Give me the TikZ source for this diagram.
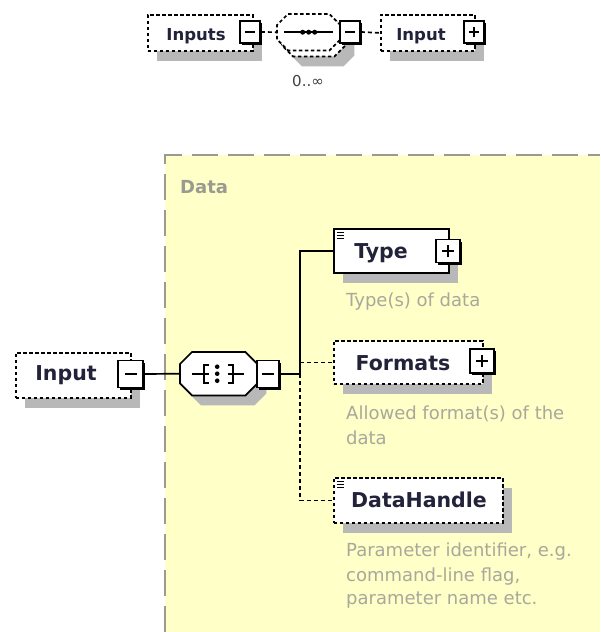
\documentclass[tikz,border=0pt]{standalone}
\usepackage{fontspec}
\setmainfont{DejaVu Sans}
\usetikzlibrary{shadows}
\definecolor{bgyellow}{HTML}{FFFFC8}
\definecolor{grpborder}{HTML}{9A9A90}
\definecolor{desccol}{HTML}{A8A89C}
\definecolor{lblcol}{HTML}{22223A}
\definecolor{shadecol}{HTML}{B8B8B8}
\tikzset{
  conn/.style={line width=1.7pt, black},
  dconn/.style={conn, dash pattern=on 4pt off 3pt},
  boxshadow/.style={drop shadow={shadow xshift=9pt, shadow yshift=-10pt, fill=shadecol, opacity=1}},
  elem/.style={draw=black, fill=white, line width=1.7pt, rectangle, inner sep=0pt, anchor=north west, minimum width=#1},
  optdash/.style={dash pattern=on 3.5pt off 2.5pt},
  octbox/.style={rectangle, inner sep=0pt, anchor=north west},
  octpath/.style 2 args={insert path={([xshift=#2]#1.north west) -- ([xshift=-#2]#1.north east) -- ([yshift=-#2]#1.north east) -- ([yshift=#2]#1.south east) -- ([xshift=-#2]#1.south east) -- ([xshift=#2]#1.south west) -- ([yshift=#2]#1.south west) -- ([yshift=-#2]#1.north west) -- cycle}},
  octshadow/.style={fill=shadecol, transform canvas={shift={(9pt,-10pt)}}},
  octdraw/.style={draw=black, fill=white, line width=1.7pt},
  sq/.style 2 args={draw=black, fill=white, line width=1.6pt, rectangle, inner sep=0pt, minimum width=#1, minimum height=#2,
     drop shadow={shadow xshift=2pt, shadow yshift=-2pt, fill=black, opacity=1}},
  glyph/.style={line width=1.5pt, black},
  toplbl/.style={anchor=base, inner sep=0pt, text=lblcol, font=\fontsize{16.5}{20}\selectfont\bfseries},
  lbl/.style={anchor=base, inner sep=0pt, text=lblcol, font=\fontsize{20.5}{25}\selectfont\bfseries},
  desc/.style={anchor=base west, inner sep=0pt, text=desccol, font=\fontsize{18}{21}\selectfont},
}
\begin{document}
\begin{tikzpicture}[x=1pt, y=-1pt]
\useasboundingbox (0,0) rectangle (600,632);
\fill[white] (0,0) rectangle (600,632);
% group area
\fill[bgyellow] (165,155) rectangle (600,632);
\draw[grpborder, line width=2pt, dash pattern=on 26pt off 10pt] (165,632) -- (165,155) -- (600,155);
\node[anchor=base west, inner sep=0pt, text=grpborder, font=\fontsize{18}{20}\selectfont\bfseries] (datalbl) at (180,193) {Data};

% ---------- top row ----------
\node[elem=105pt, minimum height=36pt, optdash, boxshadow] (inputs) at (147,14) {};
\node[toplbl] (inputsT) at (196,40) {Inputs};
\node[sq={20pt}{22pt}] (inputsM) at (250,32) {};
\draw[glyph] ([xshift=-5pt]inputsM.center) -- ([xshift=5pt]inputsM.center);

\node[octbox, minimum width=63pt, minimum height=36pt] (seqback) at (282,20) {};
\node[octbox, minimum width=63pt, minimum height=36pt] (seq) at (277,14) {};
\fill[octshadow, octpath={seqback}{11pt}];
\draw[octdraw, optdash, octpath={seqback}{11pt}];
\draw[octdraw, optdash, octpath={seq}{11pt}];
\draw[conn] ([xshift=7pt]seq.west) -- ([xshift=-7pt]seq.east);
\fill ([xshift=-6pt]seq.center) circle (2.5pt);
\fill (seq.center) circle (2.5pt);
\fill ([xshift=6pt]seq.center) circle (2.5pt);
\node[sq={20pt}{22pt}] (seqM) at (350,32) {};
\draw[glyph] ([xshift=-5pt]seqM.center) -- ([xshift=5pt]seqM.center);
\node[anchor=base, inner sep=0pt, text=black!75, font=\fontsize{15}{17}\selectfont] (mult) at (308,86) {0..∞};

\node[elem=94pt, minimum height=36pt, optdash, boxshadow] (inputTop) at (380,14) {};
\node[toplbl] (inputTopT) at (421,40) {Input};
\node[sq={20pt}{22pt}] (inputTopP) at (474,32) {};
\draw[glyph] ([xshift=-5pt]inputTopP.center) -- ([xshift=5pt]inputTopP.center);
\draw[glyph] ([yshift=-5pt]inputTopP.center) -- ([yshift=5pt]inputTopP.center);

\draw[dconn] (inputsM.east) -- (seq.west);
\draw[dconn] (seqM.east) -- (inputTop.west);

% ---------- bottom ----------
\node[elem=115pt, minimum height=45pt, optdash, boxshadow] (inB) at (15,352) {};
\node[lbl] (inBT) at (66,380) {Input};
\node[sq={25pt}{27pt}] (inBM) at (130.5,374) {};
\draw[glyph] ([xshift=-6pt]inBM.center) -- ([xshift=6pt]inBM.center);

\node[octbox, minimum width=77pt, minimum height=43pt] (choice) at (180,352) {};
\fill[octshadow, octpath={choice}{12pt}];
\draw[octdraw, octpath={choice}{12pt}];
\begin{scope}[shift={(choice.center)}]
  \draw[conn] (-27,0) -- (-15,0);
  \draw[conn] (-10,-9) -- (-15,-9) -- (-15,9) -- (-10,9);
  \draw[conn] (-15,0) -- (-10,0);
  \fill (-1.5,-7) circle (2.3pt);
  \fill (-1.5,0) circle (2.3pt);
  \fill (-1.5,7) circle (2.3pt);
  \draw[conn] (9,-9) -- (14,-9) -- (14,9) -- (9,9);
  \draw[conn] (9,0) -- (14,0);
  \draw[conn] (14,0) -- (25,0);
\end{scope}
\node[sq={22pt}{27pt}] (choiceM) at (268,374) {};
\draw[glyph] ([xshift=-6pt]choiceM.center) -- ([xshift=6pt]choiceM.center);

\node[elem=115pt, minimum height=44pt, boxshadow] (type) at (333,228) {};
\node[lbl] (typeT) at (381,258) {Type};
\node[sq={24pt}{23pt}] (typeP) at (448,251) {};
\draw[glyph] ([xshift=-6pt]typeP.center) -- ([xshift=6pt]typeP.center);
\draw[glyph] ([yshift=-6pt]typeP.center) -- ([yshift=6pt]typeP.center);
\foreach \yy in {4.5,7.5,10.5} \draw[line width=1.3pt] ([shift={(4,\yy)}]type.north west) -- ([shift={(11,\yy)}]type.north west);

\node[elem=149pt, minimum height=43pt, optdash, boxshadow] (fmt) at (333,340) {};
\node[lbl] (fmtT) at (403,370) {Formats};
\node[sq={24pt}{24pt}] (fmtP) at (482,361) {};
\draw[glyph] ([xshift=-6pt]fmtP.center) -- ([xshift=6pt]fmtP.center);
\draw[glyph] ([yshift=-6pt]fmtP.center) -- ([yshift=6pt]fmtP.center);

\node[elem=169pt, minimum height=45pt, optdash, boxshadow] (dh) at (333,477) {};
\node[lbl] (dhT) at (419,507) {DataHandle};
\foreach \yy in {4.5,7.5,10.5} \draw[line width=1.3pt] ([shift={(4,\yy)}]dh.north west) -- ([shift={(11,\yy)}]dh.north west);

% connectors
\coordinate (J) at (300,374);
\draw[conn] (inBM.east) -- (choice.west);
\draw[conn] (choiceM.east) -- (J);
\draw[conn] (J) |- (type.west);
\draw[dconn] (J |- fmt.west) -- (fmt.west);
\draw[dconn] (J) |- (dh.west);

% descriptions
\node[desc] (d1) at (346,306) {Type(s) of data};
\node[desc] (d2a) at (346,419) {Allowed format(s) of the};
\node[desc] (d2b) at (346,444) {data};
\node[desc] (d3a) at (346,556) {Parameter identifier, e.g.};
\node[desc] (d3b) at (346,581) {command-line flag,};
\node[desc] (d3c) at (346,604) {parameter name etc.};
\end{tikzpicture}
\end{document}
